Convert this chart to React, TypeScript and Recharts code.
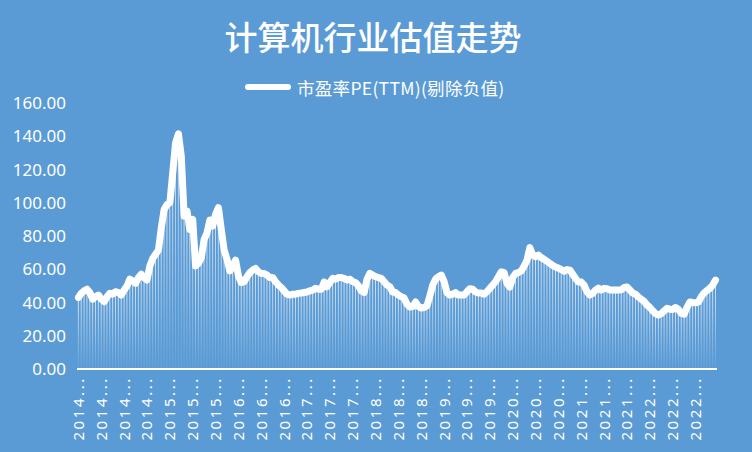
import React from "react";
import { ComposedChart, Bar, Line, XAxis, YAxis } from "recharts";

// 计算机行业 市盈率PE(TTM)(剔除负值), biweekly, 2014 - 2022
const peValues = [
  43, 45.5, 47, 48, 46, 42, 43.5, 44.5, 42, 40.5,
  43.5, 45.5, 45, 46.5, 46, 44.5, 47.5, 50, 54, 53,
  51.5, 55, 57, 55, 53.5, 62, 66.5, 69, 71.5, 85,
  96, 99, 100, 118, 136, 141.5, 128, 92, 95, 84,
  90, 62, 63.5, 67, 78, 81.8, 89.6, 86, 93, 97,
  84, 71.5, 66, 59, 62, 65.5, 56, 52, 52.5, 55.5,
  58, 59.5, 60.5, 58.5, 57.5, 57.5, 56.5, 55, 55, 52.5,
  50.5, 49, 47, 45, 44.5, 45, 45, 45.5, 45.7, 46,
  46.3, 47, 47.5, 48.5, 48, 48, 52.3, 49.5, 52, 54.5,
  54, 55, 55, 54.5, 53.5, 54, 52.5, 52, 50, 47,
  46, 54, 57.5, 56.5, 55.5, 55, 54.5, 52.5, 50.5, 49.5,
  46.3, 46, 44.5, 43.5, 42.7, 39, 37.2, 37.5, 40.3, 37.5,
  36.7, 37, 38, 44, 50.5, 54, 55.5, 56.5, 52.5, 46,
  44.5, 45, 46, 44.5, 44.5, 44.5, 46.5, 48.3, 48, 46.3,
  45.7, 45.7, 45, 46.5, 48.5, 50.5, 52.5, 55.5, 58.5, 58,
  51.5, 49.3, 55, 57.5, 58, 59, 62, 65.5, 73, 68.5,
  67.5, 68.5, 67, 66, 64.8, 63.5, 62.3, 61.3, 60.7, 59.8,
  58.8, 59.8, 59.5, 57, 54.5, 52.3, 52.3, 50.5, 46.5, 44.5,
  45.5, 47.5, 48.7, 47.5, 48.5, 48.3, 47.5, 47.5, 47.5, 47.5,
  47.7, 49, 49.3, 47.5, 45.7, 45, 43.3, 42, 40.7, 38.5,
  37, 35, 33.3, 32.5, 33.3, 35, 36.5, 36, 35.8, 37,
  35.8, 33.5, 33, 37, 40.3, 40, 39.8, 40.3, 43.5, 45.8,
  47.2, 48.5, 50.5, 53.5,
];

// one label every 8 points
const tickLabels = [
  "2014...", "2014...", "2014...", "2014...",
  "2015...", "2015...", "2015...",
  "2016...", "2016...", "2016...",
  "2017...", "2017...", "2017...",
  "2018...", "2018...", "2018...",
  "2019...", "2019...", "2019...",
  "2020...", "2020...", "2020...",
  "2021...", "2021...", "2021...",
  "2022...", "2022...", "2022...",
];
const LABEL_STEP = 8;

const yTicks = [0, 20, 40, 60, 80, 100, 120, 140, 160];

const data = peValues.map((v, i) => ({ idx: i, pe: v }));

const BG = "#5b9bd5";

const DateTick = (props: any) => {
  const { x, y, payload } = props;
  const label = tickLabels[Math.round(payload.value / LABEL_STEP)] ?? "";
  return (
    <text
      x={x}
      y={y}
      dy="0.36em"
      transform={`rotate(-90, ${x}, ${y})`}
      textAnchor="end"
      fill="#ffffff"
      style={{ fontFamily: "'Noto Sans'", fontSize: 15, letterSpacing: "2.6px" }}
    >
      {label}
    </text>
  );
};

export default function App() {
  return (
    <div
      style={{
        position: "absolute",
        left: 0,
        top: 0,
        width: 752,
        height: 452,
        background: BG,
        overflow: "hidden",
      }}
    >
      <div
        style={{
          position: "absolute",
          left: 0,
          top: 18,
          width: 746,
          textAlign: "center",
          color: "#ffffff",
          fontFamily: "'Noto Sans CJK SC'",
          fontSize: 33,
          lineHeight: "36px",
          fontWeight: 500,
        }}
      >
        计算机行业估值走势
      </div>
      <div
        style={{
          position: "absolute",
          left: 245,
          top: 76,
          height: 22,
          display: "flex",
          alignItems: "center",
          color: "#ffffff",
          fontFamily: "'Noto Sans CJK SC'",
          fontSize: 17.5,
          letterSpacing: "0.3px",
        }}
      >
        <svg width={46} height={10} style={{ marginRight: 6 }}>
          <line x1={3} y1={5} x2={43} y2={5} stroke="#ffffff" strokeWidth={6} strokeLinecap="round" />
        </svg>
        市盈率PE(TTM)(剔除负值)
      </div>
      <ComposedChart
        width={752}
        height={452}
        data={data}
        margin={{ top: 103, right: 35, bottom: 8, left: 0 }}
        barCategoryGap="30%"
      >
        <defs>
          <linearGradient id="peBarFill" x1="0" y1="0" x2="0" y2="1">
            <stop offset="0%" stopColor="#ffffff" stopOpacity={0.75} />
            <stop offset="100%" stopColor="#ffffff" stopOpacity={0.04} />
          </linearGradient>
        </defs>
        <XAxis
          dataKey="idx"
          type="category"
          interval={LABEL_STEP - 1}
          height={75}
          tickSize={0}
          tickMargin={7}
          axisLine={{ stroke: "#ffffff", strokeWidth: 2 }}
          tickLine={false}
          tick={<DateTick />}
        />
        <YAxis
          domain={[0, 160]}
          ticks={yTicks}
          width={77}
          tickSize={0}
          tickMargin={11}
          axisLine={false}
          tickLine={false}
          tickFormatter={(v: number) => v.toFixed(2)}
          tick={{ fill: "#ffffff", fontFamily: "'Noto Sans'", fontSize: 17 }}
        />
        <Bar dataKey="pe" fill="url(#peBarFill)" isAnimationActive={false} />
        <Line
          type="linear"
          dataKey="pe"
          stroke="#ffffff"
          strokeWidth={7}
          strokeLinejoin="round"
          strokeLinecap="round"
          dot={false}
          activeDot={false}
          isAnimationActive={false}
        />
      </ComposedChart>
    </div>
  );
}
